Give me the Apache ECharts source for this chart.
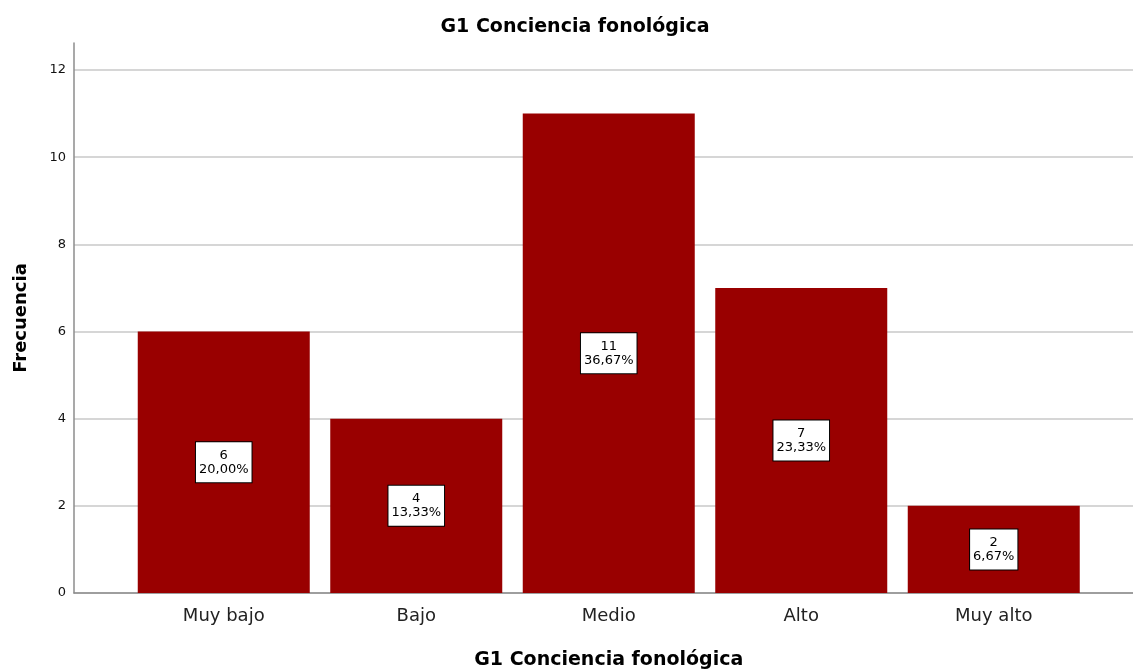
<!DOCTYPE html>
<html>
<head>
<meta charset="utf-8">
<script src="https://cdn.jsdelivr.net/npm/echarts@6/dist/echarts.min.js"></script>
<style>
html,body{margin:0;padding:0;background:#fff;}
#chart{width:1133px;height:671px;}
</style>
</head>
<body>
<div id="chart"></div>
<script>
const categories = ['Muy bajo', 'Bajo', 'Medio', 'Alto', 'Muy alto'];
const counts = [6, 4, 11, 7, 2];
const percents = [20.00, 13.33, 36.67, 23.33, 6.67];
const yTicks = [0, 2, 4, 6, 8, 10, 12];

const FONT = '"DejaVu Sans", "Liberation Sans", Arial, sans-serif';
const chart = echarts.init(document.getElementById('chart'), null, {renderer: 'canvas'});

const fmtPct = v => v.toFixed(2).replace('.', ',') + '%';

chart.setOption({
  backgroundColor: '#ffffff',
  animation: false,
  title: {
    text: 'G1 Conciencia fonológica',
    left: 570,
    textAlign: 'center',
    top: 13,
    textStyle: {fontFamily: FONT, fontSize: 19, fontWeight: 'bold', color: '#000'}
  },
  grid: [
    {left: 74, right: 0, top: 70, bottom: 78, outerBoundsMode: 'none', containLabel: false},
    {left: 74, right: 0, top: 43, bottom: 78, outerBoundsMode: 'none', containLabel: false},
    {left: 127.5, right: 43, top: 70, bottom: 78, outerBoundsMode: 'none', containLabel: false}
  ],
  xAxis: [
    {gridIndex: 0, type: 'value', min: 0, max: 1, show: false},
    {gridIndex: 1, type: 'value', min: 0, max: 1,
     axisLine: {show: true, onZero: false, lineStyle: {color: '#8c8c8c', width: 1.5}},
     axisTick: {show: false}, axisLabel: {show: false}, splitLine: {show: false}},
    {gridIndex: 2, type: 'category', data: categories,
     axisLine: {show: false}, axisTick: {show: false},
     axisLabel: {fontFamily: FONT, fontSize: 18, color: '#222', margin: 14},
     name: 'G1 Conciencia fonológica', nameLocation: 'middle', nameGap: 58,
     nameTextStyle: {fontFamily: FONT, fontSize: 19, fontWeight: 'bold', color: '#000'}}
  ],
  yAxis: [
    {gridIndex: 0, type: 'value', min: yTicks[0], max: yTicks[yTicks.length - 1], interval: 2,
     axisLine: {show: false}, axisTick: {show: false},
     axisLabel: {fontFamily: FONT, fontSize: 13, color: '#111', margin: 8},
     splitLine: {show: true, lineStyle: {color: '#c8c8c8', width: 1.5}}},
    {gridIndex: 1, type: 'value', min: 0, max: 1,
     axisLine: {show: true, lineStyle: {color: '#8c8c8c', width: 1.5}},
     axisTick: {show: false}, axisLabel: {show: false}, splitLine: {show: false},
     name: 'Frecuencia', nameLocation: 'middle', nameGap: 44,
     nameTextStyle: {fontFamily: FONT, fontSize: 18, fontWeight: 'bold', color: '#000'}},
    {gridIndex: 2, type: 'value', min: yTicks[0], max: yTicks[yTicks.length - 1], show: false}
  ],
  series: [{
    type: 'bar',
    xAxisIndex: 2,
    yAxisIndex: 2,
    data: counts,
    barWidth: 172,
    itemStyle: {color: '#990000'},
    label: {
      show: true,
      position: 'inside',
      formatter: p => p.value + '\n' + fmtPct(percents[p.dataIndex]),
      fontFamily: FONT,
      fontSize: 13,
      lineHeight: 14,
      color: '#000',
      backgroundColor: '#ffffff',
      borderColor: '#000',
      borderWidth: 1,
      padding: [6, 3, 6, 3]
    }
  }]
});
</script>
</body>
</html>
